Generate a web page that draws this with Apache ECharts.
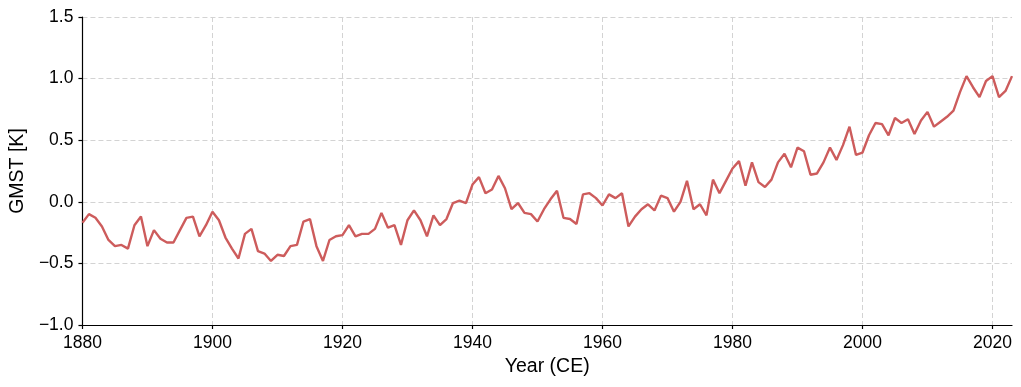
<!DOCTYPE html>
<html>
<head>
<meta charset="utf-8">
<script src="https://cdn.jsdelivr.net/npm/echarts@6/dist/echarts.min.js"></script>
<style>html,body{margin:0;padding:0;background:#fff}#c{width:1021px;height:387px}</style>
</head>
<body>
<div id="c"></div>
<script>
const years = [];
for (let y = 1880; y <= 2023; y++) years.push(y);
const gmst = [
 -0.17,-0.10,-0.13,-0.20,-0.31,-0.36,-0.35,-0.38,-0.19,-0.12,
 -0.36,-0.23,-0.30,-0.33,-0.33,-0.23,-0.13,-0.12,-0.28,-0.19,
 -0.08,-0.15,-0.29,-0.38,-0.46,-0.26,-0.22,-0.40,-0.42,-0.48,
 -0.43,-0.44,-0.36,-0.35,-0.16,-0.14,-0.36,-0.48,-0.31,-0.28,
 -0.27,-0.19,-0.28,-0.26,-0.26,-0.22,-0.09,-0.21,-0.19,-0.35,
 -0.15,-0.07,-0.15,-0.28,-0.11,-0.19,-0.14,-0.01,0.01,-0.01,
 0.14,0.20,0.07,0.10,0.21,0.11,-0.06,-0.01,-0.09,-0.10,
 -0.16,-0.06,0.02,0.09,-0.13,-0.14,-0.18,0.06,0.07,0.03,
 -0.03,0.06,0.03,0.07,-0.20,-0.12,-0.06,-0.02,-0.07,0.05,
 0.03,-0.08,0.00,0.17,-0.06,-0.02,-0.11,0.18,0.07,0.17,
 0.27,0.33,0.13,0.32,0.16,0.12,0.18,0.32,0.39,0.28,
 0.44,0.41,0.22,0.23,0.32,0.44,0.34,0.46,0.61,0.38,
 0.40,0.54,0.64,0.63,0.54,0.68,0.64,0.67,0.55,0.66,
 0.73,0.61,0.65,0.69,0.74,0.89,1.02,0.93,0.85,0.98,
 1.02,0.85,0.90,1.02
];
const xTicks = [1880,1900,1920,1940,1960,1980,2000,2020];
const yTicks = [-1.0,-0.5,0.0,0.5,1.0,1.5];
const data = years.map((y,i)=>[y,gmst[i]]);
const font = 'Liberation Sans, Arial, sans-serif';
const chart = echarts.init(document.getElementById('c'), null, {renderer:'canvas'});
chart.setOption({
  animation:false,
  grid:{left:81,right:9,top:17,bottom:62,containLabel:false},
  xAxis:{
    type:'value',min:1880,max:2023,interval:20,
    name:'Year (CE)',nameLocation:'middle',nameGap:31,
    nameTextStyle:{fontFamily:font,fontSize:19.5,color:'#000'},
    axisLine:{show:true,onZero:false,lineStyle:{color:'#000',width:1.2}},
    axisTick:{show:true,length:4,lineStyle:{color:'#000',width:1.2},customValues:xTicks},
    axisLabel:{fontFamily:font,fontSize:17.5,color:'#000',margin:9,customValues:xTicks,formatter:v=>String(v)},
    splitLine:{show:true,lineStyle:{color:'#d3d3d3',type:[5,3],width:1}}
  },
  yAxis:{
    type:'value',min:-1,max:1.5,interval:0.5,
    name:'GMST [K]',nameLocation:'middle',nameGap:54,nameRotate:90,
    nameTextStyle:{fontFamily:font,fontSize:19.5,color:'#000'},
    axisLine:{show:true,onZero:false,lineStyle:{color:'#000',width:1.2}},
    axisTick:{show:true,length:4,lineStyle:{color:'#000',width:1.2},customValues:yTicks},
    axisLabel:{fontFamily:font,fontSize:17.5,color:'#000',margin:9,customValues:yTicks,
      formatter:v=>(v<0?'\u2212':'')+Math.abs(v).toFixed(1)},
    splitLine:{show:true,lineStyle:{color:'#d3d3d3',type:[5,3],width:1}}
  },
  series:[{
    type:'line',data:data,showSymbol:false,symbol:'none',
    lineStyle:{color:'#cd5c5c',width:2.4},
    clip:true
  }]
});
</script>
</body>
</html>
